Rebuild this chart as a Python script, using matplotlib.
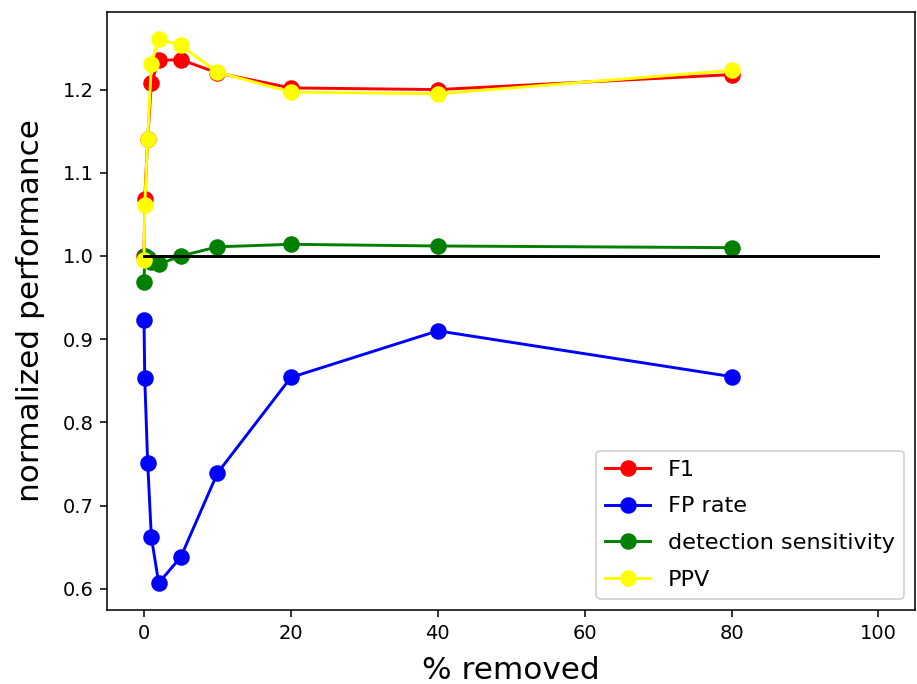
import numpy as np
import matplotlib
matplotlib.use("Agg")
import matplotlib.pyplot as plt

# % of data removed
removed = [0, 0.1, 0.5, 1, 2, 5, 10, 20, 40, 80]

f1 = [1.000, 1.069, 1.141, 1.208, 1.235, 1.236, 1.220, 1.202, 1.200, 1.218]
fp_rate = [0.923, 0.853, 0.751, 0.662, 0.607, 0.638, 0.739, 0.854, 0.910, 0.855]
sensitivity = [0.969, 1.000, 0.998, 0.993, 0.990, 1.000, 1.011, 1.014, 1.012, 1.010]
ppv = [0.995, 1.061, 1.141, 1.231, 1.261, 1.253, 1.221, 1.197, 1.195, 1.223]

baseline_x = [0, 100]
baseline_y = [1, 1]

fig = plt.figure(figsize=(917 / 140, 684 / 140), dpi=140)
ax = fig.add_axes([0.117, 0.108, 0.881, 0.875])

ax.plot(removed, f1, 'o-', c='red', markersize=7.5, label='F1')
ax.plot(removed, fp_rate, 'o-', c='blue', markersize=7.5, label='FP rate')
ax.plot(removed, sensitivity, 'o-', c='green', markersize=7.5, label='detection sensitivity')
ax.plot(removed, ppv, 'o-', c='yellow', markersize=7.5, label='PPV')
ax.plot(baseline_x, baseline_y, c='black')

ax.set_xlabel('% removed', fontsize=16, labelpad=7)
ax.set_ylabel('normalized performance', fontsize=16, labelpad=9)
ax.legend(loc='lower right', fontsize=11.5, labelspacing=0.75)

fig.savefig('out.png', dpi=140)
